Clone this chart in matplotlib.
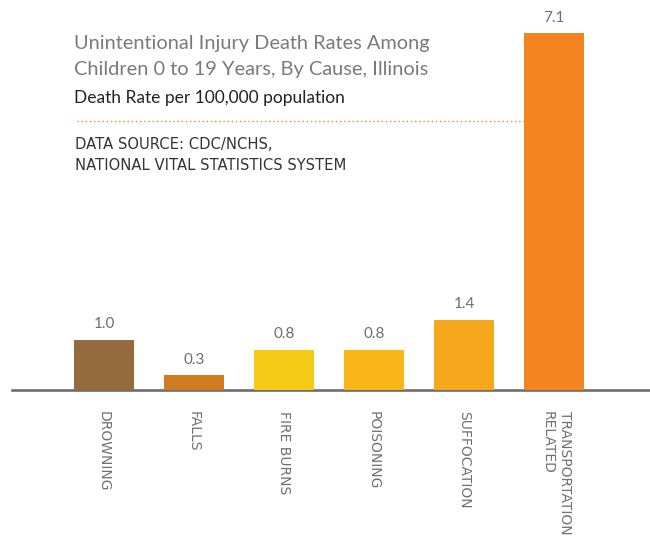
import matplotlib
matplotlib.use('Agg')
import matplotlib.pyplot as plt

plt.rcParams['font.family'] = ['Lato', 'DejaVu Sans']

causes = ['DROWNING', 'FALLS', 'FIRE BURNS', 'POISONING', 'SUFFOCATION',
          'TRANSPORTATION\nRELATED']
rates = [1.0, 0.3, 0.8, 0.8, 1.4, 7.1]
rate_labels = ['1.0', '0.3', '0.8', '0.8', '1.4', '7.1']
colors = ['#936B3D', '#CF7C20', '#F3CB15', '#FAB519', '#F8A81C', '#F48420']

W, H = 650, 546
fig = plt.figure(figsize=(W / 100, H / 100), dpi=100)

def px(x, y):
    # pixel coords (from top-left) -> figure fraction
    return x / W, 1 - y / H

base_y = 390
unit_y = 50.3
unit_x = 90.0
ax_left, ax_right = 12, 650
ax = fig.add_axes([ax_left / W, 1 - base_y / H, (ax_right - ax_left) / W, base_y / H])
ax.set_xlim((ax_left - 104) / unit_x, (ax_right - 104) / unit_x)
ax.set_ylim(0, base_y / unit_y)

xs = list(range(len(causes)))
ax.bar(xs, rates, width=0.667, color=colors, zorder=3)

for x, v, lab in zip(xs, rates, rate_labels):
    ax.annotate(lab, (x, v), xytext=(0, 6), textcoords='offset points',
                ha='center', va='bottom', fontsize=11, color='#6E6E6E')

# dotted guide line
ax.plot([-0.3, 4.667], [(base_y - 121) / unit_y] * 2, linestyle=(0, (1, 2)),
        color='#F48420', lw=1, zorder=2)

for s in ['top', 'right', 'left']:
    ax.spines[s].set_visible(False)
ax.spines['bottom'].set_color('#6E6E6E')
ax.spines['bottom'].set_linewidth(1.9)
ax.set_xticks([])
ax.set_yticks([])

# category labels, rotated
for x, c in zip(xs, causes):
    fx = (104 + x * unit_x) / W
    if '\n' in c:
        fx += 2 / W
    fig.text(fx, 1 - 411 / H, c, rotation=-90, ha='center', va='top',
             multialignment='left', fontsize=10, color='#707070',
             family='DejaVu Sans', linespacing=1.3)

# titles
fig.text(*px(74, 44), 'Unintentional Injury Death Rates Among', fontsize=14.4,
         color='#7A7A7A', va='center', ha='left')
fig.text(*px(74, 69), 'Children 0 to 19 Years, By Cause, Illinois', fontsize=14.4,
         color='#7A7A7A', va='center', ha='left')
fig.text(*px(74, 98), 'Death Rate per 100,000 population', fontsize=12.5,
         color='#222222', va='center', ha='left')
fig.text(*px(75, 145), 'DATA SOURCE: CDC/NCHS,', fontsize=10.6,
         color='#333333', va='center', ha='left', family='DejaVu Sans')
fig.text(*px(75, 166), 'NATIONAL VITAL STATISTICS SYSTEM', fontsize=10.6,
         color='#333333', va='center', ha='left', family='DejaVu Sans')

fig.savefig('out.png', dpi=100)
